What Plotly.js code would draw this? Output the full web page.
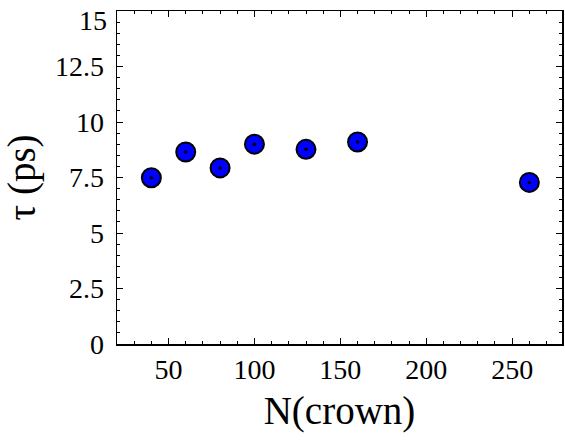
<!DOCTYPE html>
<html>
<head>
<meta charset="utf-8">
<script src="https://cdn.plot.ly/plotly-3.0.1.min.js"></script>
<style>html,body{margin:0;padding:0;background:#fff;}#chart{width:565px;height:440px;}</style>
</head>
<body>
<div id="chart"></div>
<script>
var nCrown = [40, 60, 80, 100, 130, 160, 260];
var tauPs = [7.49, 8.65, 7.93, 9.0, 8.77, 9.10, 7.28];
var yTickVals = [0, 2.5, 5, 7.5, 10, 12.5, 15];
var yTickText = ['0', '2.5', '5', '7.5', '10', '12.5', ''];
var yTopLabel = '15';
var xTickVals = [50, 100, 150, 200, 250];
var xTickText = ['50', '100', '150', '200', '250'];

var font = '"Liberation Serif", "Times New Roman", serif';
var tickSize = 28;
var traces = [
  {x: nCrown, y: tauPs, mode: 'markers', type: 'scatter',
   marker: {size: 19, color: '#0000ff', line: {color: '#000', width: 2}}, hoverinfo: 'none'},
  {x: nCrown, y: tauPs, mode: 'markers', type: 'scatter',
   marker: {size: 3.5, color: '#000'}, hoverinfo: 'none'}
];
var layout = {
  width: 565, height: 440, showlegend: false,
  margin: {l: 117, r: 3, t: 11, b: 96},
  paper_bgcolor: '#fff', plot_bgcolor: '#fff',
  font: {family: font, size: tickSize, color: '#000'},
  xaxis: {range: [20, 279], tickmode: 'array', tickvals: xTickVals, ticktext: xTickText,
    showgrid: false, zeroline: false, showline: true, linecolor: '#000', linewidth: 1.5,
    mirror: 'allticks', ticks: 'inside', ticklen: 6, tickwidth: 1, tickcolor: '#000',
    tickfont: {family: font, size: tickSize, color: '#000'}, ticklabeloverflow: 'allow',
    minor: {dtick: 10, tick0: 0, ticks: 'inside', ticklen: 3, tickcolor: '#000'},
    title: {text: 'N(crown)', font: {family: font, size: 39, color: '#000'}, standoff: 12}},
  yaxis: {range: [0, 15], tickmode: 'array', tickvals: yTickVals, ticktext: yTickText,
    showgrid: false, zeroline: false, showline: true, linecolor: '#000', linewidth: 1.5,
    mirror: 'allticks', ticks: 'inside', ticklen: 6, tickwidth: 1, tickcolor: '#000',
    tickfont: {family: font, size: tickSize, color: '#000'}, ticklabeloverflow: 'allow',
    ticklabelstandoff: 6,
    minor: {dtick: 0.5, tick0: 0, ticks: 'inside', ticklen: 3, tickcolor: '#000'},
    title: {text: 'τ (ps)', font: {family: font, size: 39, color: '#000'}, standoff: 8}},
  annotations: [{text: yTopLabel, xref: 'paper', yref: 'y', x: 0, y: 15, xanchor: 'right',
    yanchor: 'middle', xshift: -8, yshift: -9, showarrow: false,
    font: {family: font, size: tickSize, color: '#000'}}]
};
Plotly.newPlot('chart', traces, layout, {staticPlot: true});
</script>
</body>
</html>
